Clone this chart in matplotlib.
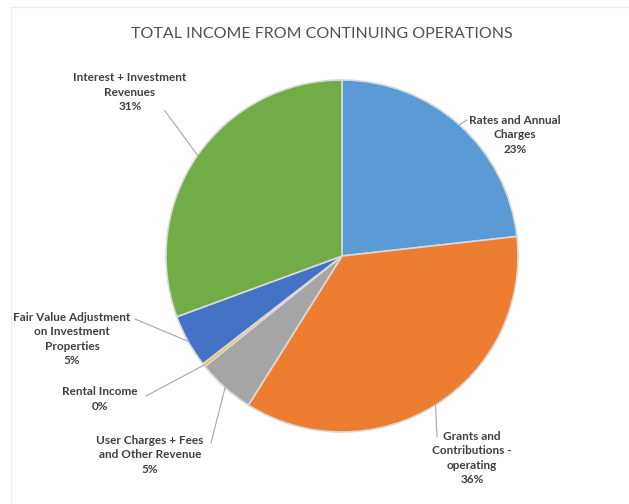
import numpy as np
import matplotlib.pyplot as plt

# ---------------- data ----------------
title = 'TOTAL INCOME FROM CONTINUING OPERATIONS'
labels = ['Rates and Annual\nCharges',
          'Grants and\nContributions -\noperating',
          'User Charges + Fees\nand Other Revenue',
          'Rental Income',
          'Fair Value Adjustment\non Investment\nProperties',
          'Interest + Investment\nRevenues']
shares = [23.3, 35.8, 5.3, 0.3, 4.9, 30.7]
pct_text = ['23%', '36%', '5%', '0%', '5%', '31%']
colors = ['#5B9BD5', '#ED7D31', '#A5A5A5', '#FFC000', '#4472C4', '#70AD47']

# label placement (pixel coords, y down) and where each leader line ends
label_pos = [(515, 135), (472, 458), (150, 455), (100, 399), (72, 339), (130, 92)]
leader_end = [(467, 120), (437, 437), (211, 443), (146, 396), (135, 319), (165, 111)]

W, H = 629, 504
fig = plt.figure(figsize=(W / 100, H / 100), dpi=100)
ax = fig.add_axes([0, 0, 1, 1])

cx, cy, r = 342, 256, 176
wedges, _ = ax.pie(shares, colors=colors, startangle=90, counterclock=False,
                   center=(cx, H - cy), radius=r,
                   wedgeprops=dict(edgecolor='#d9d9d9', linewidth=1.2))
ax.set_xlim(0, W)
ax.set_ylim(0, H)
ax.set_aspect('equal')
ax.axis('off')

# faint chart border
ax.plot([11, 11, W], [0, H - 7, H - 7], color='#ececec', lw=1)

font = 'Lato'
ax.text(322, H - 34, title, ha='center', va='center', fontsize=11.5,
        color='#505050', family=font)

for w, lab, pct, (lx, ly), (ex, ey) in zip(wedges, labels, pct_text, label_pos, leader_end):
    mid = np.deg2rad((w.theta1 + w.theta2) / 2)
    px = cx + r * np.cos(mid)
    py = (H - cy) + r * np.sin(mid)
    ax.plot([px, ex], [py, H - ey], color='#a6a6a6', lw=0.8)
    ax.text(lx, H - ly, lab + '\n' + pct, ha='center', va='center',
            fontsize=8.5, fontweight='bold', color='#404040', family=font,
            linespacing=1.4)

fig.savefig('out.png', dpi=100, facecolor='white')
